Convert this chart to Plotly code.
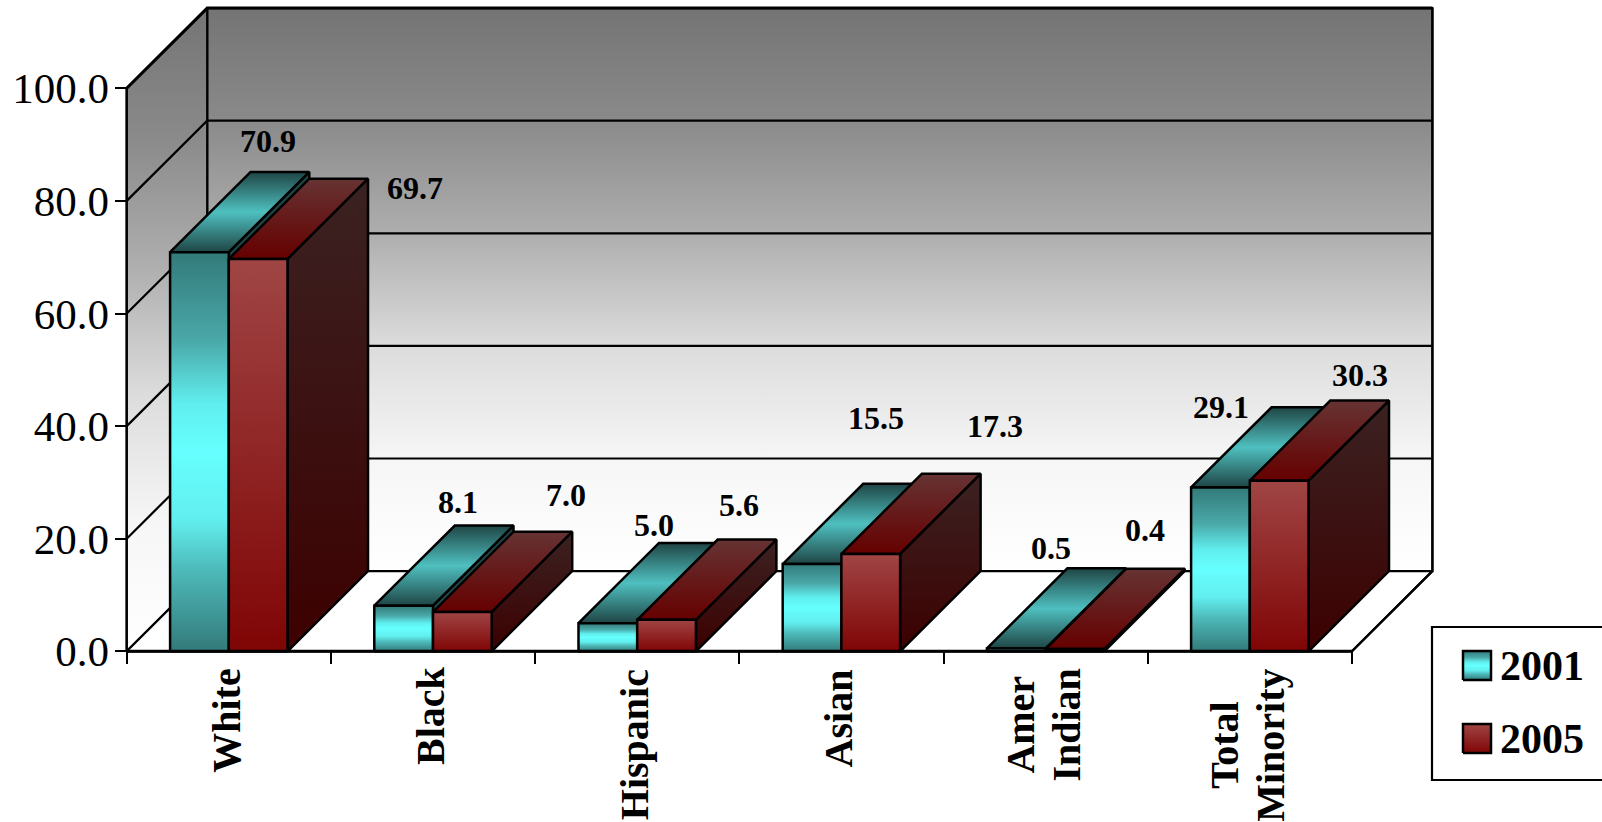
import plotly.graph_objects as go

CATEGORIES = ["White", "Black", "Hispanic", "Asian", "Amer<br>Indian", "Total<br>Minority"]
SERIES_2001 = [70.9, 8.1, 5.0, 15.5, 0.5, 29.1]
SERIES_2005 = [69.7, 7.0, 5.6, 17.3, 0.4, 30.3]
YEARS = ["2001", "2005"]
Y_TICKS = [0, 20, 40, 60, 80, 100]
Y_TICK_TEXT = ["0.0", "20.0", "40.0", "60.0", "80.0", "100.0"]

# label pixel offsets from the top-centre of each bar's front face
OFFSET_2001 = [(69, 111), (54, 104), (46, 98), (64, 146), (35, 100), (1, 80)]
OFFSET_2005 = [(157, 71), (104, 117), (72, 115), (124, 128), (70, 119), (81, 106)]
# vertical middle (px) of each rotated category label
CAT_MID_PX = [721, 716, 745, 718, 725, 745]
CAT_LINE_GAP = 46

W, H = 1602, 822
PX_X0, PX_Y0 = 126.7, 651.3     # position of the origin
SX, SY = 204.2, 5.63            # px per category, px per value unit
DX, DY = 80.5 / SX, 80.2 / SY   # depth of the 3-D box in data units
BAR_W, BAR_GAP = 0.2875, 0.2125
SERIF = "Liberation Serif"

def px2x(p): return (p - PX_X0) / SX
def px2y(p): return (PX_Y0 - p) / SY

fig = go.Figure()

def poly(xs, ys, scale=None, color=None, lw=2.5, name=None):
    kw = dict(x=xs + xs[:1], y=ys + ys[:1], mode="lines", fill="toself",
              line=dict(color="black", width=lw), hoverinfo="skip", showlegend=False)
    if name:
        kw["name"] = name
    if scale:
        kw["fillgradient"] = dict(type="vertical", colorscale=scale)
    else:
        kw["fillcolor"] = color
    fig.add_trace(go.Scatter(**kw))

def line(xs, ys, lw=2.2):
    fig.add_trace(go.Scatter(x=xs, y=ys, mode="lines", line=dict(color="black", width=lw),
                             hoverinfo="skip", showlegend=False))

N = len(CATEGORIES)
WALL = [[0, "#ffffff"], [0.2, "#f6f6f6"], [0.4, "#dcdcdc"], [0.6, "#aeaeae"], [0.8, "#8a8a8a"], [1, "#747474"]]
# back wall, left wall, floor
poly([DX, N + DX, N + DX, DX], [DY, DY, 100 + DY, 100 + DY], scale=WALL, lw=2.2)
poly([0, DX, DX, 0], [0, DY, 100 + DY, 100], scale=WALL, lw=2.2)
poly([0, N, N + DX, DX], [0, 0, DY, DY], color="#ffffff", lw=2.2)
for v in Y_TICKS[1:-1]:
    line([0, DX, N + DX], [v, v + DY, v + DY])
line([0, DX, N + DX], [100, 100 + DY, 100 + DY], lw=3)

STYLE = {
    0: dict(front=[[0, "#337a7a"], [0.2, "#4db8b8"], [0.33, "#62eeee"], [0.5, "#66ffff"],
                   [0.62, "#60eeee"], [0.78, "#4aa8a8"], [1, "#337a7a"]],
            top=[[0, "#1f4545"], [0.5, "#4fbfbf"], [1, "#1f4545"]],
            side=[[0, "#1f5555"], [1, "#1f4545"]]),
    1: dict(front=[[0, "#800505"], [1, "#a04545"]],
            top=[[0, "#660000"], [1, "#663333"]],
            side=[[0, "#3d0000"], [1, "#3b2222"]]),
}

for i in range(N):
    for s, vals in enumerate([SERIES_2001, SERIES_2005]):
        v = vals[i]
        x0 = i + BAR_GAP + s * BAR_W
        x1 = x0 + BAR_W
        st = STYLE[s]
        poly([x1, x1 + DX, x1 + DX, x1], [0, DY, v + DY, v], scale=st["side"])
        poly([x0, x1, x1 + DX, x0 + DX], [v, v, v + DY, v + DY], scale=st["top"])
        poly([x0, x1, x1, x0], [0, 0, v, v], scale=st["front"])

# front edges of the box drawn last
line([0, 0], [0, 100])
line([0, N], [0, 0], lw=3)
line([N, N + DX, N + DX], [0, DY, 100 + DY])

annotations = []
for i, cat in enumerate(CATEGORIES):
    parts = cat.split("<br>")
    for j, part in enumerate(parts):
        annotations.append(dict(x=i + 0.5, y=px2y(CAT_MID_PX[i]), text=f"<b>{part}</b>",
                                textangle=-90, showarrow=False,
                                xshift=-3 + (j - (len(parts) - 1) / 2) * CAT_LINE_GAP,
                                xanchor="center", yanchor="middle",
                                font=dict(family=SERIF, size=40, color="black")))
    for s, (vals, off) in enumerate([(SERIES_2001, OFFSET_2001), (SERIES_2005, OFFSET_2005)]):
        annotations.append(dict(x=i + BAR_GAP + (s + 0.5) * BAR_W, y=vals[i], text=f"<b>{vals[i]:.1f}</b>",
                                showarrow=False, xshift=off[i][0], yshift=off[i][1],
                                xanchor="center", yanchor="middle",
                                font=dict(family=SERIF, size=32, color="black")))

# legend
shapes = [dict(type="rect", xref="paper", yref="paper", x0=1432 / W, x1=1.02,
               y0=1 - 780 / H, y1=1 - 627 / H,
               line=dict(color="black", width=2.2), fillcolor="white", layer="below")]
for s, (top, name) in enumerate(zip((651, 724), YEARS)):
    poly([px2x(1463), px2x(1491), px2x(1491), px2x(1463)],
         [px2y(top + 29), px2y(top + 29), px2y(top), px2y(top)],
         scale=STYLE[s]["front"], name=name)
    annotations.append(dict(x=px2x(1498), y=px2y(top + 15), text=f"<b>{name}</b>", showarrow=False,
                            xanchor="left", yanchor="middle",
                            font=dict(family=SERIF, size=42, color="black")))

fig.update_layout(
    width=W, height=H, margin=dict(l=0, r=0, t=0, b=0, pad=0),
    paper_bgcolor="white", plot_bgcolor="rgba(0,0,0,0)", showlegend=False,
    annotations=annotations, shapes=shapes,
    xaxis=dict(range=[px2x(0), px2x(W)], tickmode="array", tickvals=list(range(N + 1)),
               ticktext=[""] * (N + 1), ticks="outside", ticklen=12, tickwidth=2, tickcolor="black",
               showgrid=False, zeroline=False, showline=False, anchor="free",
               position=1 - PX_Y0 / H),
    yaxis=dict(range=[px2y(H), px2y(0)], tickmode="array", tickvals=Y_TICKS, ticktext=Y_TICK_TEXT,
               ticks="outside", ticklen=12, tickwidth=2, tickcolor="black",
               ticklabelstandoff=-3,
               tickfont=dict(family=SERIF, size=43, color="black"),
               showgrid=False, zeroline=False, showline=False, anchor="free",
               position=PX_X0 / W),
)
fig.write_html("out.html", config=dict(displayModeBar=False),
               post_script="document.body.style.margin='0';document.body.style.overflow='hidden';")
